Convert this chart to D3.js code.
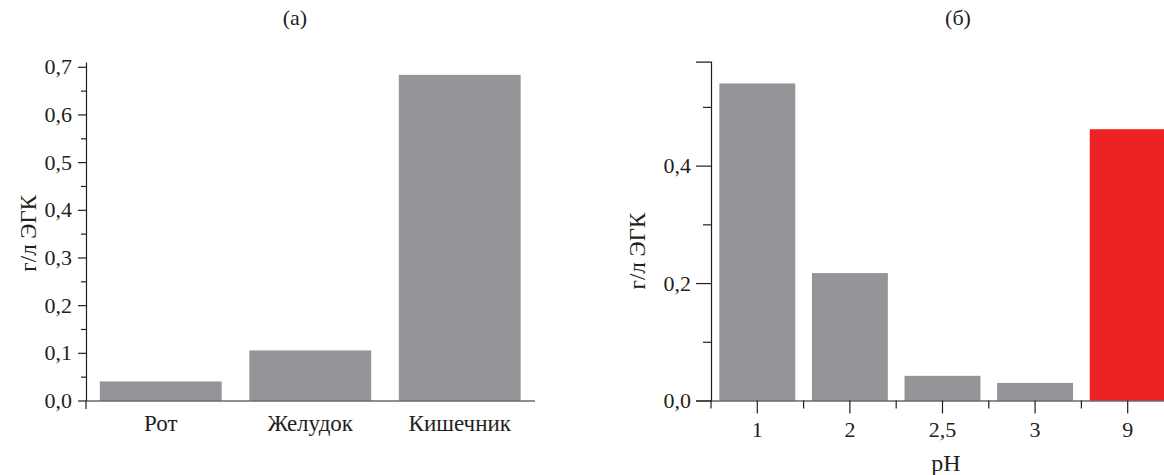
<!DOCTYPE html>
<html>
<head>
<meta charset="utf-8">
<script src="https://cdn.jsdelivr.net/npm/d3@7"></script>
<style>
  html, body { margin: 0; padding: 0; background: #fff; }
  svg { display: block; }
</style>
</head>
<body>
<svg id="chart" width="1164" height="475"></svg>
<script>
// Panel (а): ЭГК по отделам ЖКТ
const organs = ["Рот", "Желудок", "Кишечник"];
const organValues = [0.04, 0.105, 0.683];
const organTicks = [0, 0.1, 0.2, 0.3, 0.4, 0.5, 0.6, 0.7];
const organMinor = [0.05, 0.15, 0.25, 0.35, 0.45, 0.55, 0.65];

// Panel (б): ЭГК в зависимости от pH
const phLevels = ["1", "2", "2,5", "3", "9"];
const phValues = [0.54, 0.217, 0.042, 0.030, 0.462];
const phHighlight = ["9"];
const phTicks = [0, 0.2, 0.4];
const phMinor = [0.1, 0.3, 0.5];

const GRAY = "#939598";
const RED = "#ed2224";
const INK = "#231f20";
const SERIF = "Liberation Serif";
const fmt = d => d3.format(".1f")(d).replace(".", ",");

const svg = d3.select("#chart");

function label(g, x, y, txt, size, rotate) {
  const t = g.append("text")
    .attr("font-family", SERIF).attr("font-size", size).attr("fill", INK)
    .attr("text-anchor", "middle").text(txt);
  if (rotate) t.attr("transform", `translate(${x},${y}) rotate(-90)`);
  else t.attr("x", x).attr("y", y);
  return t;
}

function styleAxis(g, size) {
  g.attr("font-family", SERIF);
  g.selectAll("path, line").attr("stroke", INK).attr("stroke-width", 1.2);
  g.selectAll("text").attr("font-family", SERIF).attr("font-size", size).attr("fill", INK);
}

// ---------- panel (а) ----------
{
  const x0 = 86, x1 = 534.5, yBase = 400.5, yTop = 62;
  const x = d3.scaleBand().domain(organs).range([x0, x1])
    .paddingInner(0.185).paddingOuter(0.0925);
  const y = d3.scaleLinear().domain([0, 0.71]).range([yBase, yTop]);
  const g = svg.append("g");

  g.selectAll("rect.bar").data(organs).join("rect")
    .attr("class", "bar")
    .attr("x", d => x(d))
    .attr("width", x.bandwidth())
    .attr("y", (d, i) => y(organValues[i]))
    .attr("height", (d, i) => y(0) - y(organValues[i]))
    .attr("fill", GRAY);

  const ya = g.append("g").attr("transform", `translate(${x0},0)`)
    .call(d3.axisLeft(y).tickValues(organTicks).tickSize(8).tickSizeOuter(0)
      .tickPadding(6).tickFormat(fmt));
  styleAxis(ya, 22);
  const ym = g.append("g").attr("transform", `translate(${x0},0)`)
    .call(d3.axisLeft(y).tickValues(organMinor).tickSize(5).tickFormat(""));
  ym.select(".domain").remove();
  styleAxis(ym, 22);

  const xa = g.append("g").attr("transform", `translate(0,${y(0)})`)
    .call(d3.axisBottom(x).tickSize(0).tickSizeOuter(0).tickPadding(14));
  styleAxis(xa, 23);
  // axis stub below the origin
  g.append("line").attr("x1", x0).attr("x2", x0)
    .attr("y1", y(0)).attr("y2", y(0) + 8.5)
    .attr("stroke", INK).attr("stroke-width", 1.2);

  label(g, 295, 25, "(а)", 22);
  label(g, 36, (yTop + yBase) / 2 + 2, "г/л ЭГК", 23, true);
}

// ---------- panel (б) ----------
{
  const x0 = 711, yBase = 400.5, yTop = 61.7;
  const x = d3.scaleBand().domain(phLevels).range([x0, 1174])
    .paddingInner(0.18).paddingOuter(0.09);
  const y = d3.scaleLinear().domain([0, 0.577]).range([yBase, yTop]);
  const g = svg.append("g");

  g.selectAll("rect.bar").data(phLevels).join("rect")
    .attr("class", "bar")
    .attr("x", d => x(d))
    .attr("width", x.bandwidth())
    .attr("y", (d, i) => y(phValues[i]))
    .attr("height", (d, i) => y(0) - y(phValues[i]))
    .attr("fill", d => phHighlight.includes(d) ? RED : GRAY);

  const ya = g.append("g").attr("transform", `translate(${x0},0)`)
    .call(d3.axisLeft(y).tickValues(phTicks).tickSize(15).tickSizeOuter(15)
      .tickPadding(5).tickFormat(fmt));
  styleAxis(ya, 22);
  const ym = g.append("g").attr("transform", `translate(${x0},0)`)
    .call(d3.axisLeft(y).tickValues(phMinor).tickSize(8).tickFormat(""));
  ym.select(".domain").remove();
  styleAxis(ym, 22);

  const xa = g.append("g").attr("transform", `translate(0,${y(0)})`)
    .call(d3.axisBottom(x).tickSize(13).tickSizeOuter(0).tickPadding(8));
  styleAxis(xa, 22);
  // short ticks on the category boundaries
  const bounds = phLevels.map(d => x(d) - x.step() * x.paddingInner() / 2);
  g.selectAll("line.bound").data(bounds).join("line")
    .attr("class", "bound")
    .attr("x1", d => d).attr("x2", d => d)
    .attr("y1", y(0)).attr("y2", y(0) + 8)
    .attr("stroke", INK).attr("stroke-width", 1.2);

  label(g, 958, 25, "(б)", 22);
  label(g, 645, (yTop + yBase) / 2 + 20, "г/л ЭГК", 23, true);
  label(g, 946, 471, "pH", 24);
}
</script>
</body>
</html>
